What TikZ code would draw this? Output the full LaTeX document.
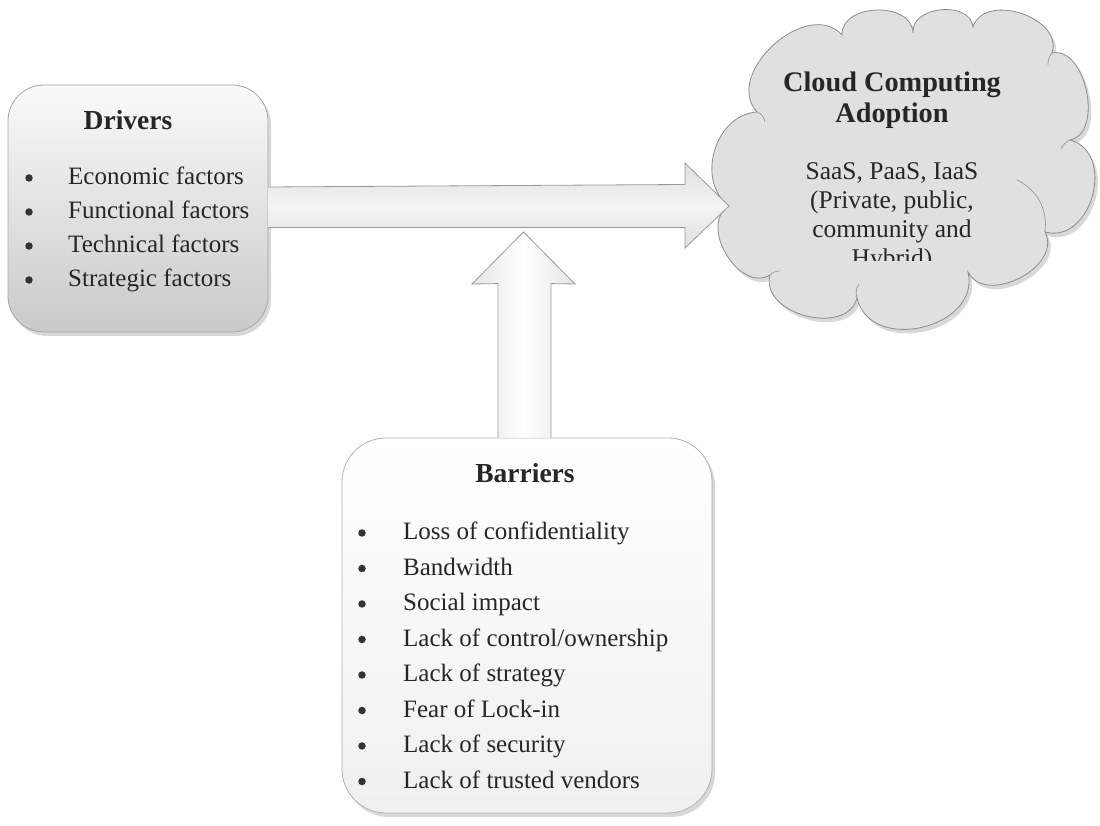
\documentclass[tikz,border=0pt]{standalone}
\usepackage{fontspec}
\setmainfont{Liberation Serif}
\usetikzlibrary{shadows,calc}
\begin{document}
\begin{tikzpicture}[x=1pt,y=1pt,
  box/.style={rounded corners=36pt, draw=black!35, line width=0.8pt, inner sep=0pt},
  item/.style={anchor=base west, inner sep=0pt, font=\fontsize{25}{30}\selectfont, text=black!85},
  cline/.style={anchor=base, inner sep=0pt, font=\fontsize{25.5}{30}\selectfont, text=black!85},
  ttl/.style={anchor=base, inner sep=0pt, font=\fontsize{27.5}{32}\selectfont\bfseries, text=black!85},
  dot/.style={circle, fill=black!80, inner sep=0pt, minimum size=7.5pt},
  blockarrow/.style={draw=black!40, line width=0.8pt, line join=miter},
  bump/.style={bend left=90, looseness=1.15},
  hook/.style={draw=black!40, line width=0.7pt},
  softshadow/.style={drop shadow={shadow xshift=3pt, shadow yshift=-4pt, opacity=0.25, fill=black!60}},
]
\useasboundingbox (0,0) rectangle (1100,826);
\fill[white] (0,0) rectangle (1100,826);

% ---------------- Cloud ----------------
\coordinate (c1) at (757,714);
\coordinate (c2) at (842,791);
\coordinate (c3) at (913,793);
\coordinate (c4) at (973,799);
\coordinate (c5) at (1052,773);
\coordinate (c6) at (1070,686);
\coordinate (c7) at (1045,594);
\coordinate (c8) at (968,554);
\coordinate (c9) at (857,528);
\coordinate (c10) at (770,551);
\coordinate (c11) at (729,620);
\draw[draw=black!45, line width=0.8pt, fill=black!12, softshadow]
  (c1) to[bump] (c2) to[bump] (c3) to[bump] (c4) to[bump] (c5)
  to[bend left=90, looseness=1.0] (c6) to[bend left=90, looseness=1.3] (c7)
  to[bump] (c8) to[bend left=90, looseness=1.3] (c9)
  to[bump] (c10) to[bump] (c11) to[bend left=70, looseness=1.1] (c1) -- cycle;
% small inner arcs of the cloud outline
\draw[hook] (c1) to[bend left=30] ++(8,-10);
\draw[hook] (c5) to[bend right=20] ++(-4,-12);
\draw[hook] (c6) to[bend right=20] ++(-9,-9);
\draw[hook] (1017,646) to[bend left=35] (c7);
\draw[hook] (c9) to[bend left=25] ++(2,14);
\draw[hook] (c10) to[bend left=20] ++(10,4);
\coordinate (cloud) at (892,660);

\node[ttl, font=\fontsize{28.3}{32}\selectfont\bfseries] (ct1) at (892,734) {Cloud Computing};
\node[ttl, font=\fontsize{28.3}{32}\selectfont\bfseries] (ct2) at (892,703) {Adoption};
\node[cline] (cl1) at (892,646) {SaaS, PaaS, IaaS};
\node[cline] (cl2) at (892,617) {(Private, public,};
\node[cline] (cl3) at (892,588) {community and};
\begin{scope}
  \clip (720,565) rectangle (1100,826);
  \node[cline] (cl4) at (892,559) {Hybrid)};
\end{scope}

% ---------------- Drivers ----------------
\node[box, minimum width=260pt, minimum height=247pt,
      top color=black!2, bottom color=black!21, softshadow] (drivers) at (138,617.5) {};
\node[ttl] (dt) at (128,696) {Drivers};
\foreach \t [count=\i] in {Economic factors, Functional factors, Technical factors, Strategic factors}{
  \node[item] (d\i) at (68,{675-34*\i}) {\t};
  \node[dot] (db\i) at (29,{682-34*\i}) {};
}

% ---------------- Horizontal block arrow ----------------
\path[shade, top color=black!13, bottom color=black!13, middle color=black!4]
  ($(drivers.east)+(0,21.5)$) -- (685,641.5) -- (685,663) -- (c11)
  -- (685,578) -- (685,598.5) -- ($(drivers.east)+(0,-19)$) -- cycle;
\draw[blockarrow]
  ($(drivers.east)+(0,21.5)$) -- (685,641.5) -- (685,663) -- (c11)
  -- (685,578) -- (685,598.5) -- ($(drivers.east)+(0,-19)$);

% ---------------- Barriers ----------------
\node[box, rounded corners=44pt, minimum width=370pt, minimum height=375pt,
      top color=white, bottom color=black!6, draw=black!30, softshadow] (barriers) at (527,200.5) {};
\node[ttl] (bt) at (525,343) {Barriers};
\foreach \t [count=\i] in {Loss of confidentiality, Bandwidth, Social impact, Lack of control/ownership, Lack of strategy, Fear of Lock-in, Lack of security, Lack of trusted vendors}{
  \node[item] (b\i) at (403,{321.5-35.5*\i}) {\t};
  \node[dot] (bb\i) at (362,{328.5-35.5*\i}) {};
}

% ---------------- Vertical block arrow ----------------
\coordinate (vtip) at (523.5,594);
\draw[blockarrow, left color=black!10, right color=black!10, middle color=white]
  ($(barriers.north)+(-29,0)$) -- ++(0,154) -- (472,542) -- (vtip)
  -- (575,542) -- ($(barriers.north)+(24,154)$) -- ($(barriers.north)+(24,0)$);
\end{tikzpicture}
\end{document}
